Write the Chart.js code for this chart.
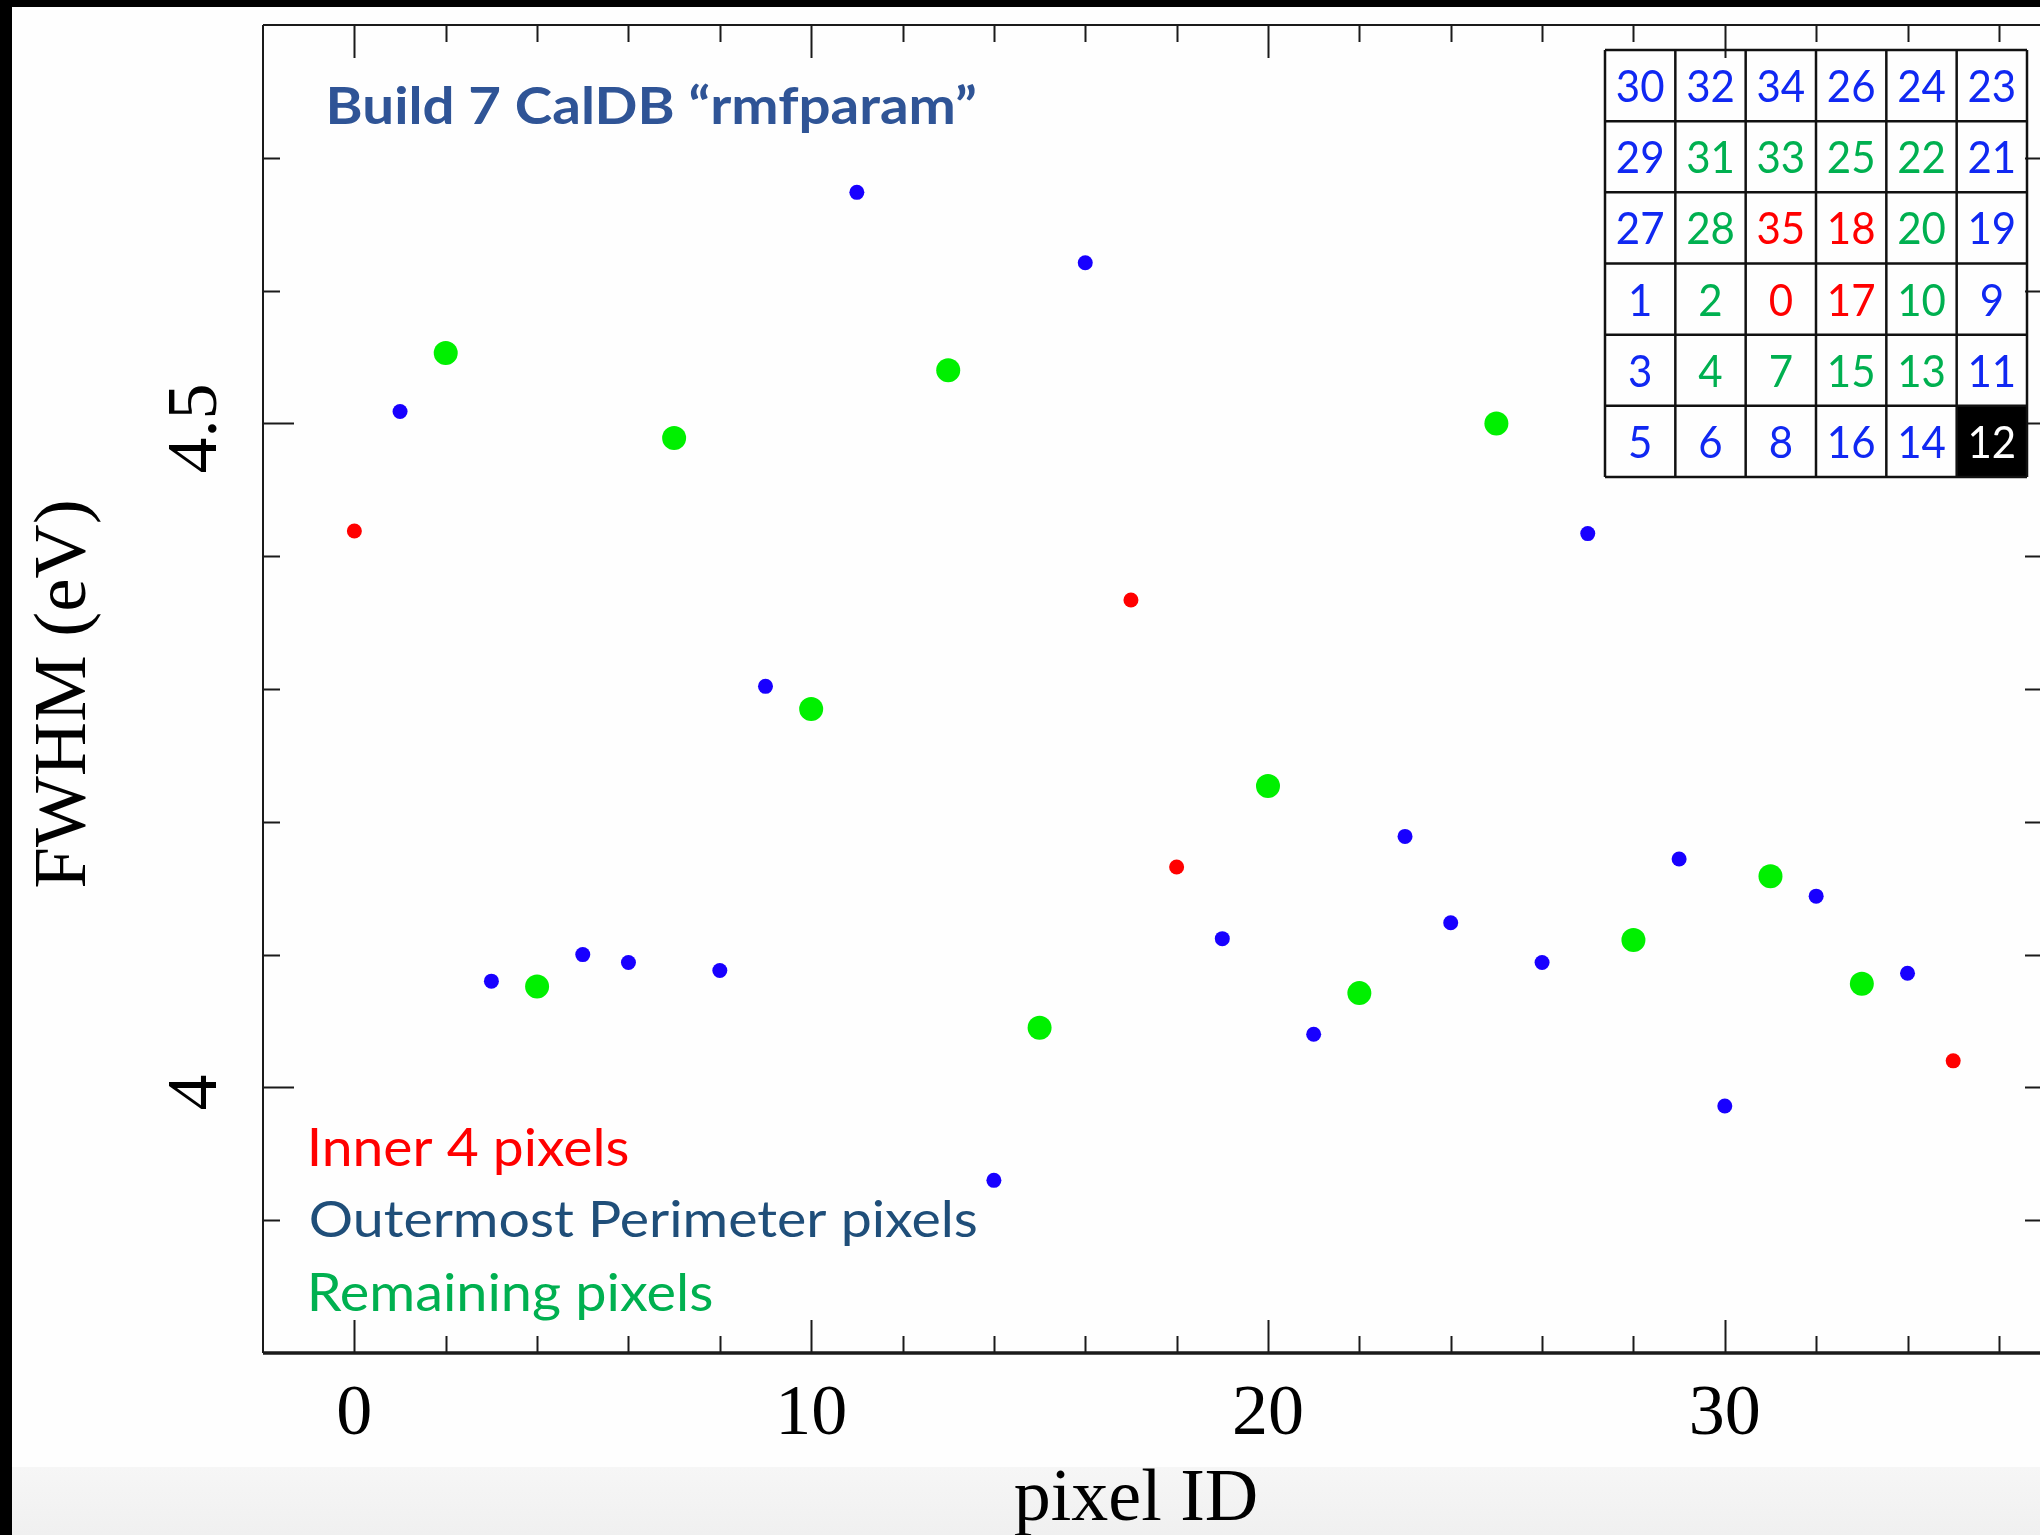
<!DOCTYPE html>
<html>
<head>
<meta charset="utf-8">
<script src="https://cdn.jsdelivr.net/npm/chart.js@4.4.1/dist/chart.umd.min.js"></script>
<style>
html,body{margin:0;padding:0;background:#fff;overflow:hidden}
#wrap{position:relative;width:2040px;height:1535px}
canvas{display:block}
</style>
</head>
<body>
<div id="wrap"><canvas id="c" width="2040" height="1535"></canvas></div>
<script>
// ---- data ----
const innerIds = [0, 17, 18, 35];
const innerFwhm = [4.419, 4.367, 4.166, 4.020];

const perimeterIds = [1, 3, 5, 6, 8, 9, 11, 14, 16, 19, 21, 23, 24, 26, 27, 29, 30, 32, 34];
const perimeterFwhm = [4.509, 4.080, 4.100, 4.094, 4.088, 4.302, 4.674, 3.930, 4.621, 4.112,
                       4.040, 4.189, 4.124, 4.094, 4.417, 4.172, 3.986, 4.144, 4.086];

const remainingIds = [2, 4, 7, 10, 13, 15, 20, 22, 25, 28, 31, 33];
const remainingFwhm = [4.553, 4.076, 4.489, 4.285, 4.540, 4.045, 4.227, 4.071, 4.500, 4.111, 4.159, 4.078];

const pixelMap = [
  [30, 32, 34, 26, 24, 23],
  [29, 31, 33, 25, 22, 21],
  [27, 28, 35, 18, 20, 19],
  [1, 2, 0, 17, 10, 9],
  [3, 4, 7, 15, 13, 11],
  [5, 6, 8, 16, 14, 12]
];
const calibrationPixel = 12;

const xTickValues = [0, 10, 20, 30];
const xTickLabels = ['0', '10', '20', '30'];
const yTickValues = [4, 4.5];
const yTickLabels = ['4', '4.5'];

const titleText = 'Build 7 CalDB \u201Crmfparam\u201D';
const legendTexts = ['Inner 4 pixels', 'Outermost Perimeter pixels', 'Remaining pixels'];
const xTitle = 'pixel ID';
const yTitle = 'FWHM (eV)';

// ---- styles ----
const COL_INNER = '#ff0000';
const COL_PERIM = '#1800ff';
const COL_REMAIN = '#00f000';
const MAP_BLUE = '#1028f2';
const MAP_GREEN = '#00b050';
const MAP_RED = '#ff0000';
const SERIF = '"Liberation Serif", "Times New Roman", serif';
const SANS = 'Lato, "Open Sans", sans-serif';

function fitText(ctx, text, o) {
  ctx.save();
  ctx.textAlign = 'left';
  ctx.textBaseline = 'alphabetic';
  let size = 100;
  ctx.font = `${o.weight || 400} ${size}px ${o.family}`;
  const capH = ctx.measureText(o.capRef || 'H').actualBoundingBoxAscent;
  size = size * o.cap / capH;
  ctx.font = `${o.weight || 400} ${size}px ${o.family}`;
  const mt = ctx.measureText(text);
  const vis = mt.actualBoundingBoxLeft + mt.actualBoundingBoxRight;
  const sx = o.width ? o.width / vis : 1;
  ctx.fillStyle = o.color;
  ctx.translate(o.left, o.baseline);
  ctx.scale(sx, 1);
  ctx.fillText(text, mt.actualBoundingBoxLeft, 0);
  ctx.restore();
}

const framePlugin = {
  id: 'frame',
  beforeDraw(chart) {
    const ctx = chart.ctx, W = chart.width, H = chart.height;
    ctx.save();
    ctx.fillStyle = '#fefefe';
    ctx.fillRect(0, 0, W, H);
    const g = ctx.createLinearGradient(0, 1467, 0, H);
    g.addColorStop(0, '#f6f6f6');
    g.addColorStop(1, '#f0f0f0');
    ctx.fillStyle = g;
    ctx.fillRect(0, 1467, W, H - 1467);
    ctx.fillStyle = '#000';
    ctx.fillRect(0, 0, 12, H);
    ctx.fillRect(0, 0, W, 7);
    ctx.restore();
  },
  afterDraw(chart) {
    const ctx = chart.ctx;
    const a = chart.chartArea;
    const xs = chart.scales.x, ys = chart.scales.y;
    ctx.save();
    // axes lines
    ctx.strokeStyle = '#1a1a1a';
    ctx.lineWidth = 2;
    ctx.beginPath();
    ctx.moveTo(a.left, a.top); ctx.lineTo(a.left, a.bottom);
    ctx.moveTo(a.left, a.top); ctx.lineTo(a.right, a.top);
    ctx.stroke();
    ctx.lineWidth = 3.5;
    ctx.beginPath();
    ctx.moveTo(a.left, a.bottom); ctx.lineTo(a.right, a.bottom);
    ctx.stroke();
    // x ticks
    ctx.lineWidth = 2;
    ctx.beginPath();
    for (let v = 0; v <= 36; v += 2) {
      const px = Math.round(xs.getPixelForValue(v)) + 0.5;
      const len = v % 10 === 0 ? 33 : 17;
      ctx.moveTo(px, a.bottom); ctx.lineTo(px, a.bottom - len);
      ctx.moveTo(px, a.top); ctx.lineTo(px, a.top + len);
    }
    // y ticks
    for (let k = 39; k <= 47; k++) {
      const v = k / 10;
      const py = Math.round(ys.getPixelForValue(v)) + 0.5;
      const len = (k === 40 || k === 45) ? 31 : 17;
      ctx.moveTo(a.left, py); ctx.lineTo(a.left + len, py);
      ctx.moveTo(a.right, py); ctx.lineTo(a.right - 15, py);
    }
    ctx.stroke();

    // tick labels
    ctx.fillStyle = '#000';
    ctx.font = `400 72px ${SERIF}`;
    ctx.textAlign = 'center';
    ctx.textBaseline = 'alphabetic';
    xTickValues.forEach((v, i) => {
      ctx.fillText(xTickLabels[i], xs.getPixelForValue(v), 1434);
    });
    yTickValues.forEach((v, i) => {
      ctx.save();
      ctx.translate(216, ys.getPixelForValue(v) + 5);
      ctx.rotate(-Math.PI / 2);
      ctx.fillText(yTickLabels[i], 0, 0);
      ctx.restore();
    });
    // axis titles
    ctx.font = `400 74px ${SERIF}`;
    ctx.fillText(xTitle, 1136, 1520);
    ctx.save();
    ctx.font = `400 75px ${SERIF}`;
    ctx.translate(85, 694);
    ctx.rotate(-Math.PI / 2);
    ctx.fillText(yTitle, 0, 0);
    ctx.restore();

    // title
    fitText(ctx, titleText, {left: 330, baseline: 124, cap: 37, width: 646, family: SANS, weight: 700, color: '#2f5496', capRef: 'B'});
    // legend texts
    fitText(ctx, legendTexts[0], {left: 311, baseline: 1166, cap: 37.5, width: 317, family: SANS, color: COL_INNER, capRef: 'I'});
    fitText(ctx, legendTexts[1], {left: 311, baseline: 1237, cap: 36.5, width: 665, family: SANS, color: '#1f4e79', capRef: 'H'});
    fitText(ctx, legendTexts[2], {left: 311, baseline: 1311, cap: 37.5, width: 401, family: SANS, color: MAP_GREEN, capRef: 'R'});

    // pixel map table
    const tx0 = 1605, tx1 = 2027, ty0 = 50, ty1 = 477;
    const cw = (tx1 - tx0) / 6, chh = (ty1 - ty0) / 6;
    ctx.textAlign = 'center';
    let fs = 100;
    ctx.font = `400 ${fs}px ${SANS}`;
    const dh = ctx.measureText('0').actualBoundingBoxAscent;
    fs = fs * 33 / dh;
    ctx.font = `400 ${fs}px ${SANS}`;
    const m00 = ctx.measureText('00');
    const sx = 47 / (m00.actualBoundingBoxLeft + m00.actualBoundingBoxRight);
    for (let r = 0; r < 6; r++) {
      for (let c = 0; c < 6; c++) {
        const id = pixelMap[r][c];
        const cx = tx0 + cw * (c + 0.5), cy = ty0 + chh * (r + 0.5);
        let color = MAP_BLUE;
        if (id === calibrationPixel) {
          ctx.fillStyle = '#000';
          ctx.fillRect(tx0 + cw * c, ty0 + chh * r, cw, chh);
          color = '#fff';
        } else if (innerIds.includes(id)) color = MAP_RED;
        else if (remainingIds.includes(id)) color = MAP_GREEN;
        ctx.save();
        ctx.translate(cx, cy + 16.5);
        ctx.scale(sx, 1);
        ctx.fillStyle = color;
        ctx.textAlign = 'center';
        ctx.fillText(String(id), 0, 0);
        ctx.restore();
      }
    }
    ctx.strokeStyle = '#111';
    ctx.lineWidth = 2.5;
    ctx.beginPath();
    for (let i = 0; i <= 6; i++) {
      ctx.moveTo(tx0 + cw * i, ty0); ctx.lineTo(tx0 + cw * i, ty1);
      ctx.moveTo(tx0, ty0 + chh * i); ctx.lineTo(tx1, ty0 + chh * i);
    }
    ctx.stroke();
    ctx.restore();
  }
};

const toPts = (ids, vals) => ids.map((x, i) => ({x, y: vals[i]}));

new Chart(document.getElementById('c'), {
  type: 'scatter',
  data: {
    datasets: [
      {label: legendTexts[0], data: toPts(innerIds, innerFwhm), pointRadius: 7.5, pointBackgroundColor: COL_INNER, pointBorderWidth: 0, borderWidth: 0},
      {label: legendTexts[1], data: toPts(perimeterIds, perimeterFwhm), pointRadius: 7.5, pointBackgroundColor: COL_PERIM, pointBorderWidth: 0, borderWidth: 0},
      {label: legendTexts[2], data: toPts(remainingIds, remainingFwhm), pointRadius: 12, pointBackgroundColor: COL_REMAIN, pointBorderWidth: 0, borderWidth: 0}
    ]
  },
  options: {
    responsive: false,
    animation: false,
    devicePixelRatio: 1,
    layout: {autoPadding: false, padding: {left: 263, right: 0, top: 25, bottom: 182}},
    plugins: {legend: {display: false}, tooltip: {enabled: false}, title: {display: false}},
    scales: {
      x: {type: 'linear', min: -2, max: 36.9, display: false},
      y: {type: 'linear', min: 3.8, max: 4.8, display: false}
    }
  },
  plugins: [framePlugin]
});
</script>
</body>
</html>
